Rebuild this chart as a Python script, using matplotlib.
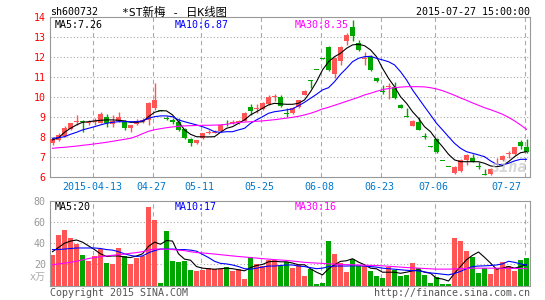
import matplotlib
matplotlib.use("Agg")
import matplotlib.pyplot as plt
import matplotlib.transforms as mtransforms

plt.rcParams['font.family'] = ['DejaVu Sans Mono', 'Noto Sans CJK SC']

# ---------------- data ----------------
opens = [7.74, 7.87, 8.05, 8.40, 8.75, 8.82, 8.70, 8.75, 8.72, 9.02,
         8.66, 8.80, 8.78, 8.45, 8.65, 8.78, 8.87, 9.48, 9.36, 8.97,
         8.87, 8.78, 8.40, 7.92, 7.73, 7.97, 8.23, 8.24, 8.32, 8.68,
         8.72, 8.72, 8.82, 9.52, 9.42, 9.42, 9.67, 10.00, 10.03, 9.22,
         9.20, 9.50, 10.12, 10.85, 11.38, 11.96, 12.53, 11.15, 11.80, 12.80,
         13.53, 12.70, 11.92, 12.03, 10.95, 10.30, 10.50, 10.52, 9.62, 9.05,
         8.57, 8.78, 8.05, 7.54, 7.92, 6.83, 6.53, 6.20, 6.30, 6.85,
         6.98, 6.55, 6.13, 6.15, 6.80, 6.85, 7.18, 7.15, 7.75, 7.50]
closes = [7.92, 8.12, 8.45, 8.70, 8.82, 8.75, 8.78, 8.80, 9.15, 8.72,
          8.82, 9.02, 8.45, 8.60, 8.80, 8.86, 9.70, 9.85, 9.32, 8.94,
          8.78, 8.38, 7.97, 7.72, 7.86, 8.20, 8.27, 8.26, 8.63, 8.65,
          8.75, 8.80, 9.22, 9.33, 9.47, 9.70, 10.02, 10.05, 9.55, 9.18,
          9.48, 9.85, 10.32, 10.82, 11.36, 11.94, 11.37, 11.95, 12.53, 13.10,
          13.05, 12.38, 11.97, 11.35, 10.80, 10.27, 10.55, 9.95, 9.48, 9.02,
          8.82, 8.38, 8.00, 7.52, 7.25, 6.81, 6.51, 6.53, 6.87, 7.12,
          6.78, 6.52, 6.11, 6.42, 6.83, 7.08, 7.22, 7.50, 7.55, 7.28]
highs = [8.00, 8.20, 8.55, 8.72, 9.10, 8.85, 8.85, 8.95, 9.25, 9.15,
         9.10, 9.25, 8.85, 8.62, 8.90, 8.95, 9.75, 10.73, 9.38, 9.05,
         8.95, 8.95, 8.45, 7.95, 7.88, 8.22, 8.35, 8.35, 8.65, 8.85,
         8.85, 8.85, 9.25, 9.65, 9.65, 9.75, 10.10, 10.15, 10.10, 9.45,
         9.52, 9.88, 10.35, 10.85, 11.38, 11.96, 12.55, 12.00, 12.55, 13.20,
         13.87, 12.87, 12.25, 12.10, 10.97, 10.62, 10.70, 10.78, 9.65, 9.48,
         8.88, 9.03, 8.23, 7.55, 7.95, 6.83, 6.53, 6.55, 6.90, 7.15,
         7.15, 6.78, 6.40, 6.45, 6.95, 7.12, 7.32, 7.52, 7.87, 7.92]
lows = [7.60, 7.82, 8.00, 8.35, 8.60, 8.25, 8.60, 8.60, 8.70, 8.50,
        8.50, 8.75, 8.35, 8.28, 8.60, 8.70, 8.60, 9.35, 9.30, 8.85,
        8.68, 8.30, 7.90, 7.58, 7.65, 7.90, 8.15, 8.20, 8.28, 8.55,
        8.65, 8.68, 8.80, 9.12, 9.20, 9.35, 9.62, 9.80, 9.50, 9.00,
        9.15, 9.45, 10.10, 10.48, 11.36, 11.94, 11.30, 10.95, 11.60, 12.62,
        12.80, 12.30, 11.62, 11.30, 10.75, 10.15, 9.92, 9.92, 9.45, 9.00,
        8.55, 8.35, 7.92, 7.52, 7.20, 6.81, 6.51, 6.15, 6.28, 6.62,
        6.75, 6.42, 6.10, 6.12, 6.62, 6.80, 6.98, 7.10, 7.42, 7.22]
ma5 = [7.87, 7.98, 8.25, 8.45, 8.62, 8.75, 8.78, 8.82, 8.85, 8.87,
       8.87, 8.85, 8.82, 8.75, 8.75, 8.78, 9.03, 9.25, 9.33, 9.32,
       9.12, 8.78, 8.37, 8.15, 8.03, 8.02, 8.02, 8.03, 8.25, 8.45,
       8.53, 8.70, 8.87, 9.12, 9.28, 9.45, 9.62, 9.70, 9.67, 9.65,
       9.65, 9.70, 9.87, 10.28, 10.78, 11.37, 11.78, 12.03, 12.20, 12.45,
       12.62, 12.65, 12.58, 12.37, 12.03, 11.45, 10.95, 10.53, 10.03, 9.70,
       9.28, 8.95, 8.53, 8.28, 7.87, 7.53, 7.15, 6.87, 6.78, 6.78,
       6.78, 6.78, 6.70, 6.57, 6.53, 6.58, 6.78, 7.03, 7.23, 7.28]
ma10 = [7.95, 7.98, 8.03, 8.15, 8.25, 8.37, 8.45, 8.53, 8.62, 8.70,
        8.75, 8.78, 8.78, 8.78, 8.78, 8.82, 8.95, 9.03, 9.07, 9.07,
        9.03, 8.87, 8.78, 8.70, 8.62, 8.53, 8.42, 8.28, 8.25, 8.28,
        8.28, 8.37, 8.45, 8.70, 8.87, 9.03, 9.20, 9.28, 9.32, 9.37,
        9.42, 9.58, 9.75, 9.95, 10.15, 10.37, 10.48, 10.78, 11.15, 11.45,
        11.78, 11.95, 12.03, 12.05, 11.95, 11.87, 11.78, 11.62, 11.28, 10.87,
        10.37, 9.95, 9.53, 9.12, 8.70, 8.37, 8.03, 7.70, 7.45, 7.28,
        7.20, 7.12, 7.03, 6.82, 6.65, 6.62, 6.70, 6.82, 6.90, 6.90]
ma30 = [7.45, 7.48, 7.50, 7.53, 7.56, 7.60, 7.63, 7.67, 7.71, 7.75,
        7.80, 7.85, 7.90, 7.95, 8.05, 8.18, 8.30, 8.38, 8.43, 8.48,
        8.52, 8.55, 8.57, 8.58, 8.59, 8.60, 8.60, 8.61, 8.62, 8.65,
        8.70, 8.74, 8.76, 8.78, 8.80, 8.82, 8.85, 8.88, 8.92, 8.96,
        9.00, 9.05, 9.12, 9.20, 9.30, 9.42, 9.50, 9.60, 9.70, 9.80,
        9.90, 10.00, 10.12, 10.20, 10.30, 10.38, 10.44, 10.48, 10.51, 10.53,
        10.53, 10.53, 10.52, 10.48, 10.42, 10.33, 10.22, 10.10, 9.97, 9.85,
        9.72, 9.60, 9.48, 9.38, 9.27, 9.15, 9.00, 8.82, 8.62, 8.40]
volumes = [29.0, 48.0, 52.0, 45.0, 39.4, 28.9, 23.5, 28.0, 34.2, 21.6,
           20.4, 35.8, 28.0, 20.4, 25.8, 28.0, 74.4, 61.8, 2.8, 51.8,
           23.5, 22.6, 23.5, 14.9, 14.0, 14.9, 16.5, 15.6, 15.6, 17.5,
           14.0, 15.9, 6.3, 27.0, 20.3, 19.0, 24.4, 23.8, 18.7, 22.0,
           16.5, 19.7, 9.5, 15.9, 1.3, 2.2, 41.9, 29.8, 21.3, 12.7,
           25.1, 18.1, 18.1, 14.0, 9.2, 7.0, 18.0, 15.0, 9.5, 10.0,
           21.3, 16.5, 10.0, 2.2, 8.0, 1.3, 1.3, 45.0, 41.9, 33.0,
           26.7, 11.7, 16.5, 10.8, 16.5, 22.2, 18.1, 14.0, 24.4, 26.0]
vma5 = [32.0, 36.0, 40.0, 42.0, 43.0, 41.0, 37.5, 34.0, 30.0, 27.5,
        28.0, 28.0, 27.0, 26.5, 28.0, 30.0, 37.0, 41.0, 39.0, 42.5,
        42.0, 30.0, 25.0, 24.0, 18.0, 16.5, 16.0, 15.5, 16.0, 16.5,
        16.0, 15.0, 14.0, 17.0, 19.0, 20.0, 22.5, 23.0, 22.5, 22.5,
        21.3, 19.7, 19.7, 15.9, 12.7, 10.2, 15.9, 19.7, 22.9, 23.5,
        25.4, 22.2, 19.7, 16.5, 15.9, 12.7, 12.7, 12.7, 11.7, 12.7,
        14.0, 14.9, 12.7, 11.7, 7.0, 6.3, 4.4, 11.7, 18.1, 24.4,
        28.6, 31.7, 26.7, 21.3, 15.6, 16.5, 18.1, 16.5, 18.0, 19.7]
vma10 = [34.0, 34.0, 34.5, 35.0, 35.5, 35.5, 35.5, 35.5, 35.0, 34.0,
         33.5, 32.0, 30.0, 28.5, 27.5, 28.0, 31.0, 33.0, 34.5, 34.5,
         34.5, 34.0, 34.0, 33.5, 32.5, 29.5, 26.5, 23.0, 21.0, 20.5,
         19.5, 18.0, 16.0, 15.5, 16.5, 17.5, 18.5, 18.5, 19.0, 19.5,
         19.5, 18.5, 18.0, 17.0, 16.0, 16.5, 18.0, 18.5, 18.5, 18.5,
         18.7, 18.7, 18.5, 18.0, 17.5, 16.5, 16.0, 15.5, 15.0, 14.5,
         14.2, 14.0, 13.0, 12.0, 11.5, 10.8, 10.2, 11.5, 13.5, 16.0,
         18.0, 18.5, 18.7, 19.0, 19.5, 20.5, 23.0, 22.0, 20.5, 19.5]
vma30 = [19.7, 20.5, 21.3, 22.0, 23.0, 24.4, 25.5, 26.5, 27.3, 28.0,
         28.6, 29.2, 29.8, 30.5, 31.2, 32.0, 33.5, 34.5, 34.5, 34.3,
         34.0, 33.5, 33.0, 32.0, 31.2, 30.8, 30.3, 29.8, 29.2, 28.6,
         28.0, 27.5, 27.0, 26.5, 26.0, 25.5, 25.0, 24.5, 24.2, 23.8,
         23.2, 22.6, 22.0, 21.6, 21.3, 21.0, 20.6, 20.3, 20.0, 19.8,
         19.7, 19.5, 19.3, 19.1, 19.0, 18.7, 18.3, 17.9, 17.5, 17.1,
         16.8, 16.5, 16.2, 15.9, 15.6, 15.6, 15.6, 15.8, 16.0, 16.3,
         16.5, 16.5, 16.5, 16.5, 16.5, 16.4, 16.3, 16.2, 16.1, 16.0]
date_idx = [7, 17, 25, 35, 45, 55, 64, 79]
date_labels = ["2015-04-13", "04-27", "05-11", "05-25", "06-08", "06-23", "07-06", "07-27"]
price_ticks = [6, 7, 8, 9, 10, 11, 12, 13, 14]
vol_ticks = [20, 40, 60, 80]

# ---------------- styles ----------------
RED = '#ff5555'
GREEN = '#00a600'
FRAME = '#999999'
GRID = '#aaaaaa'
FS = 7.2
n = len(closes)
xs = list(range(n))
cols = [RED if c >= o else GREEN for o, c in zip(opens, closes)]

fig = plt.figure(figsize=(5.45, 3.0), dpi=100)
W, H = 545.0, 300.0
ax = fig.add_axes([50 / W, 1 - 177.3 / H, 480 / W, 160 / H])
axv = fig.add_axes([50 / W, 1 - 285.7 / H, 480 / W, 85 / H])

for a in (ax, axv):
    a.set_xlim(-0.42, 79.58)
    for s in a.spines.values():
        s.set_color(FRAME)
        s.set_linewidth(0.8)
    a.set_xticks([])
    a.tick_params(axis='y', length=0, pad=3, labelsize=FS)
    for d in date_idx:
        a.axvline(d - 0.3, color=GRID, lw=0.8, ls=(0, (4, 3)), zorder=0)

# price panel
ax.set_ylim(6, 14)
ax.set_yticks(price_ticks)
ax.set_yticklabels([str(t) for t in price_ticks], color='#ff0000')
for t in price_ticks[1:-1]:
    ax.axhline(t, color=GRID, lw=0.8, ls=(0, (1, 2)), zorder=0)

bottoms = [min(o, c) for o, c in zip(opens, closes)]
heights = [max(abs(c - o), 0.04) for o, c in zip(opens, closes)]
ax.vlines(xs, lows, highs, colors=cols, lw=1.0, zorder=2)
ax.bar(xs, heights, bottom=bottoms, width=0.8, color=cols, linewidth=0, zorder=3)
ax.plot(xs, ma5, color='black', lw=0.8, zorder=4)
ax.plot(xs, ma10, color='#0000ff', lw=0.8, zorder=4)
ax.plot(xs, ma30, color='#ff00ff', lw=0.8, zorder=4)

# volume panel
axv.set_ylim(0, 80)
axv.set_yticks(vol_ticks)
axv.set_yticklabels([str(t) for t in vol_ticks], color='#999999')
for t in vol_ticks[:-1]:
    axv.axhline(t, color=GRID, lw=0.8, ls=(0, (1, 2)), zorder=0)
axv.bar(xs, volumes, width=0.83, color=cols, linewidth=0, zorder=2)
axv.plot(xs, vma5, color='black', lw=0.8, zorder=4)
axv.plot(xs, vma10, color='#0000ff', lw=0.8, zorder=4)
axv.plot(xs, vma30, color='#ff00ff', lw=0.8, zorder=4)

# date labels
tr = mtransforms.blended_transform_factory(ax.transData, fig.transFigure)
for d, lab in zip(date_idx, date_labels):
    if d == date_idx[-1]:
        ax.text(d - 0.8, 1 - 186.5 / H, lab, transform=tr, ha='right', va='center',
                color='#0077cc', fontsize=FS)
    else:
        ax.text(d - 0.45, 1 - 186.5 / H, lab, transform=tr, ha='center', va='center',
                color='#0077cc', fontsize=FS)

def ftext(x, y, s, **kw):
    fig.text(x / W, 1 - y / H, s, fontsize=kw.pop('fontsize', FS), va='center', **kw)

# header
ftext(50, 12, "sh600732", color='black')
ftext(122, 12, "*ST新梅 - 日K线图", color='black', fontsize=8.2)
ftext(530, 12, "2015-07-27 15:00:00", color='black', ha='right')

# legends
ftext(55, 24.5, "MA5:7.26", color='black')
ftext(174.5, 24.5, "MA10:6.87", color='#0000ff')
ftext(295, 24.5, "MA30:8.35", color='#ff00ff')
ftext(55, 207, "MA5:20", color='black')
ftext(174.5, 207, "MA10:17", color='#0000ff')
ftext(295, 207, "MA30:16", color='#ff00ff')

# footer
ftext(30, 277, "x万", color='#aaaaaa')
ftext(50, 292.5, "Copyright 2015 SINA.COM", color='#555555')
ftext(530, 292.5, "http://finance.sina.com.cn", color='#555555', ha='right')

# watermark
ftext(509, 167, "sina", color='#c8c8c8', ha='center', fontsize=11,
      fontstyle='italic', fontweight='bold', alpha=0.7)

fig.savefig("out.png", dpi=100)
